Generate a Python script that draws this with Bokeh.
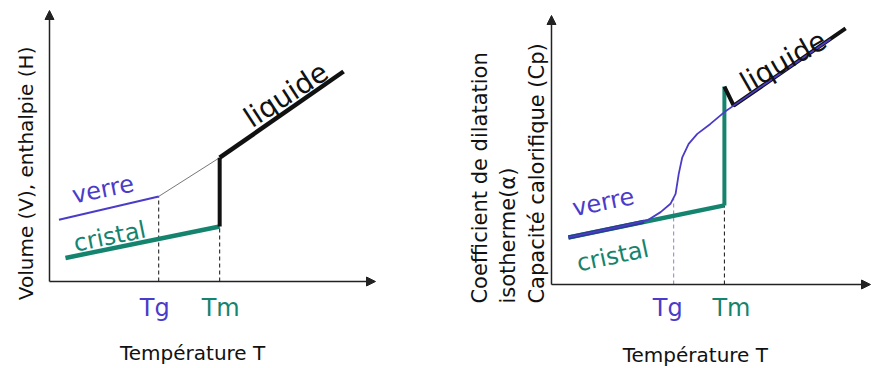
import math
from bokeh.plotting import figure
from bokeh.layouts import row
from bokeh.models import Range1d, Arrow, NormalHead
from bokeh.core.properties import value
from bokeh.embed import file_html
from bokeh.resources import INLINE

# ---------------- data : left panel (volume / enthalpy) ----------------
L_TG = 3.35
L_TM = 5.22
L_VERRE_T = [0.29, 3.35]
L_VERRE_V = [2.28, 3.14]
L_SURF_T = [3.35, 5.22]          # supercooled liquid (thin)
L_SURF_V = [3.14, 4.57]
L_CRIST_T = [0.49, 5.22]
L_CRIST_V = [0.87, 2.03]
L_FUSION_V = [2.03, 4.57]        # jump at Tm
L_LIQ_T = [5.22, 9.02]
L_LIQ_V = [4.57, 7.75]

# ---------------- data : right panel (alpha / Cp) ----------------
R_TG = 3.83
R_TM = 5.42
R_CRIST_T = [0.53, 5.42]
R_CRIST_V = [1.75, 2.94]
R_FUSION_V = [2.94, 7.36]
R_LIQ_T = [5.42, 5.71, 9.22]
R_LIQ_V = [7.36, 6.65, 9.52]
R_VERRE_T = [0.53, 2.16, 3.00, 3.42, 3.73, 3.89, 3.99, 4.10, 4.30, 4.57, 4.98, 5.42, 5.71, 8.75]
R_VERRE_V = [1.75, 2.15, 2.38, 2.69, 3.00, 3.37, 4.12, 4.73, 5.23, 5.60, 5.97, 6.41, 6.65, 9.13]
R_VERRE_THICK_T = [0.53, 2.90]
R_VERRE_THICK_V = [1.75, 2.33]
R_TG_V = 3.2

AXIS_MAX_L = [10.0, 10.0]
AXIS_MAX_R = [10.0, 10.0]

LABEL_TEMP = "Température T"
LABEL_Y_LEFT = "Volume (V), enthalpie (H)"
LABEL_Y_RIGHT = ["Coefficient de dilatation", "isotherme(α)", "Capacité calorifique (Cp)"]

BLUE = "#4a3cc8"
TEAL = "#14846f"
DARKBLUE = "#2a3b8c"
BLACK = "#111111"
FONT = value("DejaVu Sans")


def make_fig(w, h, xr, yr):
    p = figure(width=w, height=h, x_range=Range1d(*xr), y_range=Range1d(*yr),
               output_backend="svg", toolbar_location=None,
               x_axis_type=None, y_axis_type=None,
               min_border=0, min_border_left=0, min_border_right=0,
               min_border_top=0, min_border_bottom=0,
               outline_line_color=None, background_fill_color="white",
               border_fill_color="white")
    return p


def axes_arrows(p, xmax, ymax):
    for xe, ye in [(0, ymax), (xmax, 0)]:
        p.add_layout(Arrow(end=NormalHead(size=9, fill_color="#222222", line_color="#222222"),
                           x_start=0, y_start=0, x_end=xe, y_end=ye,
                           line_width=1.5, line_color="#222222"))


def txt(p, x, y, s, color=BLACK, size="24px", angle=0.0, align="left",
        baseline="alphabetic", xo=0):
    p.text(x=[x], y=[y], text=[s], angle=angle, text_font=FONT,
           text_font_size=value(size), text_color=color, text_align=align,
           text_baseline=baseline, x_offset=xo)


# ---------------- left figure ----------------
p1 = make_fig(435, 368, (-1.503, 11.840), (-3.210, 10.369))
axes_arrows(p1, *AXIS_MAX_L)
p1.line([L_TG, L_TG], [0, L_VERRE_V[-1]], line_color=BLACK, line_width=1, line_dash="4 3")
p1.line([L_TM, L_TM], [0, L_CRIST_V[-1]], line_color=BLACK, line_width=1, line_dash="4 3")
p1.line(L_SURF_T, L_SURF_V, line_color="#777777", line_width=1)
p1.line(L_VERRE_T, L_VERRE_V, line_color=BLUE, line_width=2)
p1.line(L_CRIST_T, L_CRIST_V, line_color=TEAL, line_width=4.5)
p1.line([L_TM, L_TM], L_FUSION_V, line_color=BLACK, line_width=4)
p1.line(L_LIQ_T, L_LIQ_V, line_color=BLACK, line_width=4.5)

txt(p1, 0.70, 3.17, "verre", BLUE, angle=0.20)
txt(p1, 0.75, 1.39, "cristal", TEAL, angle=0.20)
txt(p1, 6.05, 5.94, "liquide", BLACK, size="28px", angle=0.58)
txt(p1, L_TG, -0.96, "Tg", BLUE, align="center", xo=-4)
txt(p1, L_TM, -0.96, "Tm", TEAL, align="center", xo=1)
txt(p1, 4.39, -2.62, LABEL_TEMP, BLACK, size="20px", align="center")
txt(p1, -0.736, 3.99, LABEL_Y_LEFT, BLACK, size="20px", angle=math.pi / 2,
    align="center", baseline="middle")

# ---------------- right figure ----------------
p2 = make_fig(436, 368, (-3.636, 10.031), (-3.123, 10.558))
axes_arrows(p2, *AXIS_MAX_R)
p2.line([R_TG, R_TG], [0, R_TG_V], line_color="#8a80d8", line_width=1, line_dash="4 3")
p2.line([R_TM, R_TM], [0, R_CRIST_V[-1]], line_color=BLACK, line_width=1, line_dash="4 3")
p2.line(R_CRIST_T, R_CRIST_V, line_color=TEAL, line_width=4.5)
p2.line(R_VERRE_THICK_T, R_VERRE_THICK_V, line_color=DARKBLUE, line_width=4)
p2.line([R_TM, R_TM], R_FUSION_V, line_color=TEAL, line_width=4)
p2.line(R_LIQ_T, R_LIQ_V, line_color=BLACK, line_width=4)
p2.line(R_VERRE_T, R_VERRE_V, line_color=BLUE, line_width=1.8)

txt(p2, 0.66, 2.83, "verre", BLUE, angle=0.20)
txt(p2, 0.80, 0.77, "cristal", TEAL, angle=0.21)
txt(p2, 5.99, 7.43, "liquide", BLACK, size="28px", angle=0.52)
txt(p2, R_TG, -0.89, "Tg", BLUE, align="center", xo=-6)
txt(p2, R_TM, -0.89, "Tm", TEAL, align="center", xo=7)
txt(p2, 4.51, -2.62, LABEL_TEMP, BLACK, size="20px", align="center")
for xpos, s in zip([-2.23, -1.35, -0.47], LABEL_Y_RIGHT):
    txt(p2, xpos, -0.71, s, BLACK, size="21px", angle=math.pi / 2,
        align="left", baseline="middle")

layout = row(p1, p2, spacing=0)
open("out.html", "w").write(file_html(layout, INLINE))
